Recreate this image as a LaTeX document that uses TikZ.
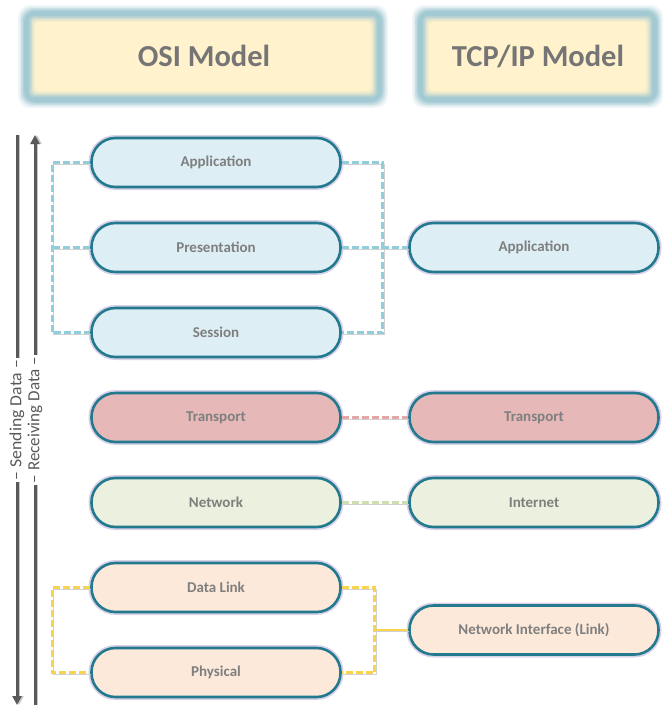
\documentclass[tikz,border=0pt]{standalone}
\usepackage{fontspec}
\usepackage{graphicx}
\setmainfont{Carlito}
\usetikzlibrary{arrows.meta}
\definecolor{glow}{HTML}{A3C9D3}
\definecolor{headfill}{HTML}{FFF2CC}
\definecolor{headtext}{HTML}{757575}
\definecolor{boxborder}{HTML}{23798E}
\definecolor{bluefill}{HTML}{DDEEF5}
\definecolor{pinkfill}{HTML}{E6B9B8}
\definecolor{greenfill}{HTML}{EBF1DE}
\definecolor{peachfill}{HTML}{FDE9D9}
\definecolor{textgray}{HTML}{7F7F7F}
\definecolor{bluedash}{HTML}{92CDDC}
\definecolor{pinkdash}{HTML}{E6A6A6}
\definecolor{greendash}{HTML}{CFDDB0}
\definecolor{yellowdash}{HTML}{F9D24E}
\definecolor{lavender}{HTML}{D9D2E9}
\definecolor{sidegray}{HTML}{595959}
\newcommand\mkhead[4]{%
  \foreach \i/\c in {0/15,1.5/35,3/60,4.5/85,6/100}{%
    \fill[glow!\c!white, rounded corners=12pt] (#1+\i,#2+\i) rectangle (#3-\i,#4-\i);}
  \foreach \i/\c in {11/80,12.5/55,14/30,15.5/12,17/0}{%
    \fill[glow!\c!headfill, rounded corners=4pt] (#1+\i,#2+\i) rectangle (#3-\i,#4-\i);}
}
\tikzset{
  layer/.style={rectangle, rounded corners=24pt, minimum width=249pt, minimum height=49pt,
    draw=boxborder, line width=2.6pt, inner sep=0pt, text=textgray,
    font=\fontsize{15}{18}\selectfont\bfseries,
    preaction={draw=lavender, line width=6pt}},
  bluebox/.style={layer, fill=bluefill},
  pinkbox/.style={layer, fill=pinkfill},
  greenbox/.style={layer, fill=greenfill},
  peachbox/.style={layer, fill=peachfill},
  headlabel/.style={text=headtext, font=\fontsize{30.5}{36}\selectfont\bfseries},
  linkline/.style={line width=2.8pt, dash pattern=on 7pt off 3pt,
    preaction={draw=black!18, transform canvas={shift={(1pt,-1.5pt)}}}},
  bluelink/.style={linkline, draw=bluedash},
  pinklink/.style={linkline, draw=pinkdash},
  greenlink/.style={linkline, draw=greendash},
  yellowlink/.style={linkline, draw=yellowdash},
  yellowsolid/.style={line width=2.8pt, draw=yellowdash,
    preaction={draw=black!18, transform canvas={shift={(1pt,-1.5pt)}}}},
  sideline/.style={line width=3pt, draw=sidegray,
    preaction={draw=black!22, transform canvas={shift={(2pt,0pt)}}}},
  sidetext/.style={rotate=90, text=sidegray, inner sep=2pt,
    font=\fontsize{17}{20}\selectfont},
  tip/.style={-{Triangle[width=9pt,length=9pt]}}
}
\begin{document}
\begin{tikzpicture}[x=1pt,y=-1pt]
\useasboundingbox (0,0) rectangle (672,713);
% headers
\mkhead{18}{5}{388}{108}
\mkhead{412}{5}{663}{108}
\node[headlabel] (osi) at (204,56) {OSI Model};
\node[headlabel] (tcp) at (538,56) {TCP/IP Model};
% OSI layers
\node[bluebox] (app) at (216,162.5) {Application};
\node[bluebox] (pre) at (216,247.5) {Presentation};
\node[bluebox] (ses) at (216,332.5) {Session};
\node[pinkbox] (tra) at (216,417.5) {Transport};
\node[greenbox] (net) at (216,502.5) {Network};
\node[peachbox] (dl) at (216,587.5) {Data Link};
\node[peachbox] (ph) at (216,672.5) {Physical};
% TCP/IP layers
\node[bluebox] (tapp) at (534,247.5) {Application};
\node[pinkbox] (ttra) at (534,417.5) {Transport};
\node[greenbox] (tnet) at (534,502.5) {Internet};
\node[peachbox] (tni) at (534,630) {Network Interface (Link)};
% connectors
\draw[bluelink] (app.west) -- ++(-38,0) |- (ses.west);
\draw[bluelink] (pre.west) -- ++(-38,0);
\draw[bluelink] (app.east) -- ++(41,0) |- (ses.east);
\draw[bluelink] (pre.east) -- (tapp.west);
\draw[pinklink] (tra.east) -- (ttra.west);
\draw[greenlink] (net.east) -- (tnet.west);
\draw[yellowlink] (dl.west) -- ++(-38,0) |- (ph.west);
\draw[yellowlink] (dl.east) -- ++(33,0) |- (ph.east);
\draw[yellowsolid] (tni.west) -- ++(-33,0);
% sending / receiving
\coordinate (stop) at (17,135);
\coordinate (sbot) at (17,705);
\coordinate (rtop) at (35,135);
\coordinate (rbot) at (35,705);
\node[sidetext] (send) at (17,420) {\scalebox{1.04}[1]{– Sending Data –}};
\node[sidetext] (recv) at (35,420) {\scalebox{1.0}[1]{– Receiving Data –}};
\draw[sideline] (stop) -- (send.east);
\draw[sideline, tip] (send.west) -- (sbot);
\draw[sideline, tip] (recv.east) -- (rtop);
\draw[sideline] (rbot) -- (recv.west);
\end{tikzpicture}
\end{document}
